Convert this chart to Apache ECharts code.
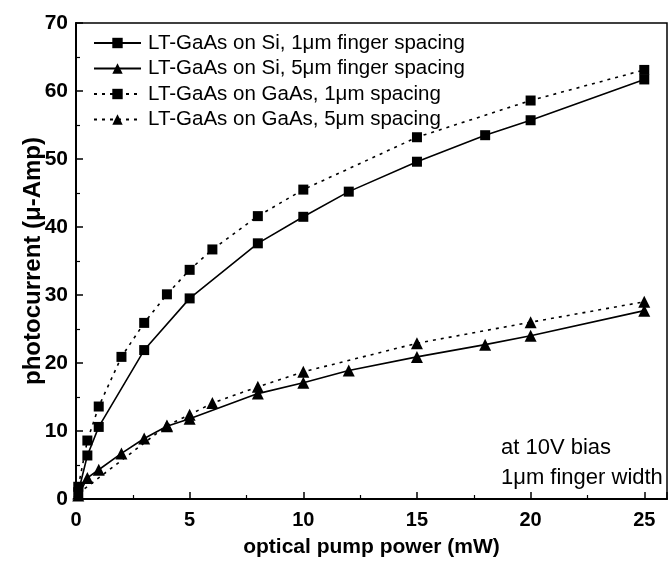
<!DOCTYPE html>
<html>
<head>
<meta charset="utf-8">
<script src="https://cdn.jsdelivr.net/npm/echarts@6/dist/echarts.min.js"></script>
<style>
  html, body { margin: 0; padding: 0; background: #fff; }
  #chart { width: 668px; height: 566px; }
</style>
</head>
<body>
<div id="chart"></div>
<script>
// values
const siOneX = [0.1, 0.5, 1, 3, 5, 8, 10, 12, 15, 18, 20, 25];
const siOneY = [1.0, 6.4, 10.6, 21.9, 29.5, 37.6, 41.5, 45.2, 49.6, 53.5, 55.7, 61.7];

const siFiveX = [0.1, 0.5, 1, 2, 3, 4, 5, 8, 10, 12, 15, 18, 20, 25];
const siFiveY = [0.5, 3.1, 4.3, 6.7, 8.9, 10.7, 11.8, 15.5, 17.1, 18.9, 20.9, 22.7, 24.0, 27.7];

const gaOneX = [0.1, 0.5, 1, 2, 3, 4, 5, 6, 8, 10, 15, 20, 25];
const gaOneY = [1.8, 8.6, 13.6, 20.9, 25.9, 30.1, 33.7, 36.7, 41.6, 45.5, 53.2, 58.6, 63.1];

const gaFiveX = [0.1, 4, 5, 6, 8, 10, 15, 20, 25];
const gaFiveY = [0.8, 10.8, 12.4, 14.1, 16.5, 18.7, 22.9, 26.0, 29.0];

const names = [
  "LT-GaAs on Si, 1μm finger spacing",
  "LT-GaAs on Si, 5μm finger spacing",
  "LT-GaAs on GaAs, 1μm spacing",
  "LT-GaAs on GaAs, 5μm spacing",
];

const font = "'Liberation Sans', Arial, Helvetica, sans-serif";

function pairs(xs, ys) {
  return xs.map((x, i) => [x, ys[i]]);
}

function makeSeries(name, xs, ys, symbol, size, dotted) {
  return {
    name,
    type: "line",
    data: pairs(xs, ys),
    symbol,
    symbolSize: size,
    showAllSymbol: true,
    itemStyle: { color: "#000" },
    lineStyle: {
      color: "#000",
      width: 1.6,
      type: dotted ? [3, 5] : "solid",
    },
    emphasis: { disabled: true },
    animation: false,
  };
}

const chart = echarts.init(document.getElementById("chart"));

chart.setOption({
  backgroundColor: "#fff",
  grid: {
    left: 76,
    right: 1,
    top: 23,
    bottom: 67,
    show: true,
    borderColor: "#000",
    borderWidth: 1.5,
  },
  legend: {
    orient: "vertical",
    left: 93,
    top: 32,
    padding: 0,
    itemWidth: 47,
    itemHeight: 13,
    itemGap: 3.5,
    textStyle: {
      fontFamily: font,
      fontSize: 20.5,
      color: "#000",
      lineHeight: 22,
      padding: [0, 0, 0, 2],
    },
    data: names,
  },
  xAxis: {
    type: "value",
    min: 0,
    max: 26,
    interval: 5,
    name: "optical pump power (mW)",
    nameLocation: "middle",
    nameGap: 38,
    nameTextStyle: { fontFamily: font, fontSize: 21, fontWeight: "bold", color: "#000" },
    axisLine: { lineStyle: { color: "#000", width: 2 } },
    axisTick: { inside: true, length: 7, lineStyle: { color: "#000", width: 1.5 } },
    minorTick: { show: true, splitNumber: 2, length: 4, lineStyle: { color: "#000", width: 1.2 } },
    splitLine: { show: false },
    axisLabel: {
      fontFamily: font,
      fontSize: 20,
      fontWeight: "bold",
      color: "#000",
      margin: 11,
      showMaxLabel: false,
    },
  },
  yAxis: {
    type: "value",
    min: 0,
    max: 70,
    interval: 10,
    name: "photocurrent (μ-Amp)",
    nameLocation: "middle",
    nameGap: 31,
    nameMoveOverlap: false,
    nameTextStyle: { fontFamily: font, fontSize: 24, fontWeight: "bold", color: "#000" },
    axisLine: { lineStyle: { color: "#000", width: 2 } },
    axisTick: { inside: true, length: 7, lineStyle: { color: "#000", width: 1.5 } },
    minorTick: { show: true, splitNumber: 2, length: 4, lineStyle: { color: "#000", width: 1.2 } },
    splitLine: { show: false },
    axisLabel: {
      fontFamily: font,
      fontSize: 21,
      fontWeight: "bold",
      color: "#000",
      margin: 8,
    },
  },
  graphic: [
    {
      type: "text",
      left: 501,
      top: 437,
      style: { text: "at 10V bias", font: "22px " + font, fill: "#000" },
    },
    {
      type: "text",
      left: 501,
      top: 467,
      style: { text: "1μm finger width", font: "22px " + font, fill: "#000" },
    },
  ],
  series: [
    makeSeries(names[0], siOneX, siOneY, "rect", 10, false),
    makeSeries(names[1], siFiveX, siFiveY, "triangle", 12, false),
    makeSeries(names[2], gaOneX, gaOneY, "rect", 10, true),
    makeSeries(names[3], gaFiveX, gaFiveY, "triangle", 12, true),
  ],
});
</script>
</body>
</html>
